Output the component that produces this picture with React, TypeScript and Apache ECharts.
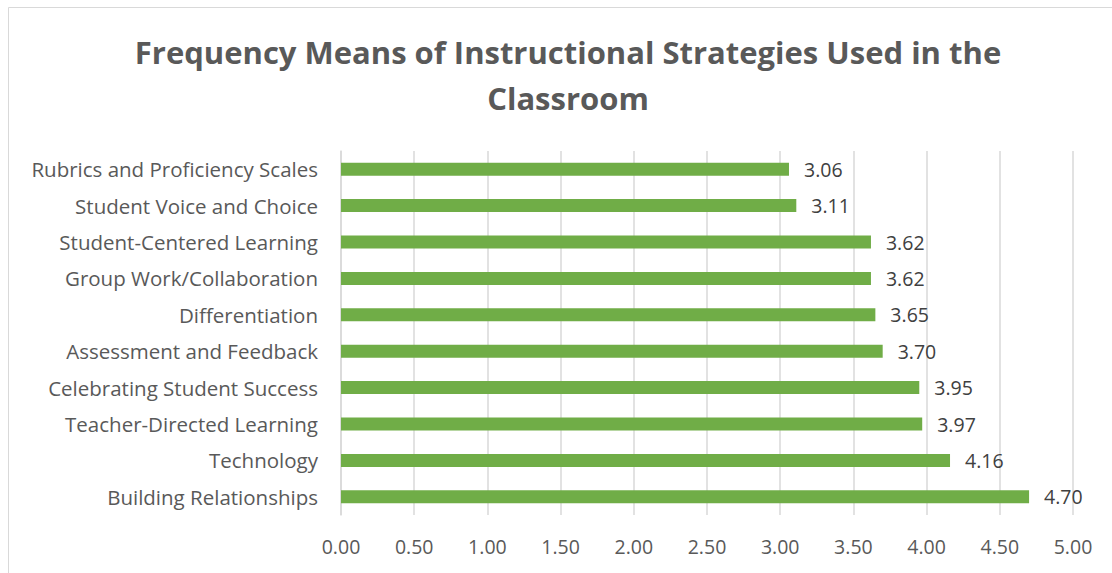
import React, { useEffect, useRef } from "react";
import * as echarts from "echarts";

const categories = [
  "Building Relationships",
  "Technology",
  "Teacher-Directed Learning",
  "Celebrating Student Success",
  "Assessment and Feedback",
  "Differentiation",
  "Group Work/Collaboration",
  "Student-Centered Learning",
  "Student Voice and Choice",
  "Rubrics and Proficiency Scales",
];
const values = [4.7, 4.16, 3.97, 3.95, 3.7, 3.65, 3.62, 3.62, 3.11, 3.06];
const titleText = "Frequency Means of Instructional Strategies Used in the\nClassroom";

export default function App() {
  const ref = useRef<HTMLDivElement>(null);
  useEffect(() => {
    if (!ref.current) return;
    const chart = echarts.init(ref.current, null, { renderer: "svg" });
    const font = "'Open Sans', sans-serif";
    chart.setOption({
      animation: false,
      backgroundColor: "#ffffff",
      title: {
        text: titleText,
        left: 563,
        textAlign: "center",
        top: 24,
        textStyle: {
          fontFamily: font,
          fontSize: 31,
          fontWeight: "bold",
          color: "#595959",
          lineHeight: 46,
        },
      },
      graphic: [
        {
          type: "rect",
          shape: { x: 8.5, y: 7.5, width: 1200, height: 700 },
          style: { fill: "none", stroke: "#d9d9d9", lineWidth: 1 },
          silent: true,
        },
      ],
      grid: { left: 341, right: 39, top: 151, bottom: 58, containLabel: false },
      xAxis: {
        type: "value",
        min: 0,
        max: 5,
        interval: 0.5,
        axisLine: { show: false },
        axisTick: { show: false },
        splitLine: { show: true, lineStyle: { color: "#d9d9d9", width: 1.5 } },
        axisLabel: {
          formatter: (v: number) => v.toFixed(2),
          fontFamily: font,
          fontSize: 19.5,
          color: "#595959",
          margin: 21,
        },
      },
      yAxis: {
        type: "category",
        data: categories,
        axisLine: { show: true, lineStyle: { color: "#d9d9d9", width: 1.5 } },
        axisTick: { show: false },
        axisLabel: {
          fontFamily: font,
          fontSize: 20.5,
          color: "#595959",
          margin: 23,
        },
      },
      series: [
        {
          type: "bar",
          data: values,
          barWidth: 13,
          itemStyle: { color: "#70ad47" },
          label: {
            show: true,
            position: "right",
            distance: 15,
            formatter: (p: any) => Number(p.value).toFixed(2),
            fontFamily: font,
            fontSize: 19.5,
            color: "#404040",
          },
        },
      ],
    });
    return () => chart.dispose();
  }, []);
  return (
    <div
      ref={ref}
      style={{ position: "absolute", left: 0, top: 0, width: 1112, height: 573 }}
    />
  );
}
